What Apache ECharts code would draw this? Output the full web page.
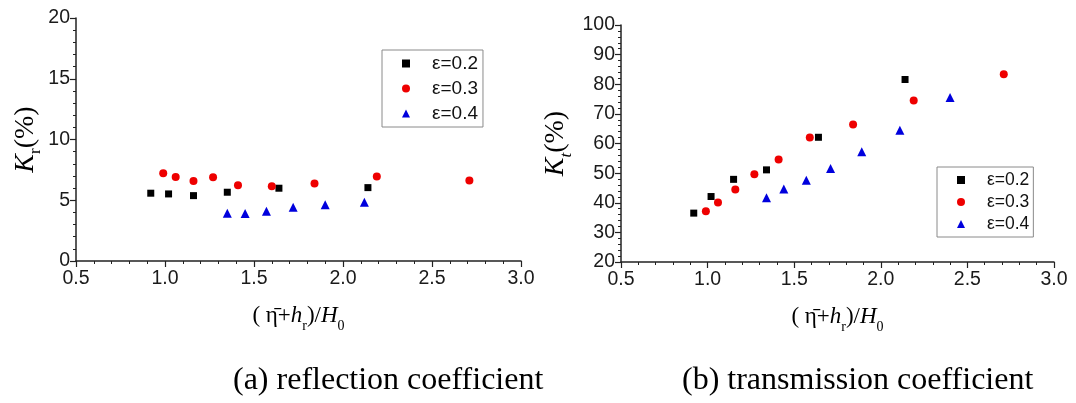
<!DOCTYPE html>
<html>
<head>
<meta charset="utf-8">
<title>Reflection and transmission coefficients</title>
<script src="https://cdn.jsdelivr.net/npm/echarts@6/dist/echarts.min.js"></script>
<style>
  html, body { margin: 0; padding: 0; background: #fff; }
  #chart { width: 1076px; height: 403px; }
</style>
</head>
<body>
<div id="chart"></div>
<script>
// Relative freeboard (η̄ + h_r) / H0 and coefficients in percent
const seriesNames = ['ε=0.2', 'ε=0.3', 'ε=0.4'];

// (a) reflection coefficient Kr
const krX02 = [0.92, 1.02, 1.16, 1.35, 1.64, 2.14];
const krY02 = [5.58, 5.52, 5.38, 5.66, 5.99, 6.04];
const krX03 = [0.99, 1.06, 1.16, 1.27, 1.41, 1.60, 1.84, 2.19, 2.71];
const krY03 = [7.23, 6.92, 6.59, 6.90, 6.24, 6.15, 6.37, 6.95, 6.62];
const krX04 = [1.35, 1.45, 1.57, 1.72, 1.90, 2.12];
const krY04 = [3.93, 3.90, 4.09, 4.42, 4.62, 4.84];

// (b) transmission coefficient Kt
const ktX02 = [0.92, 1.02, 1.15, 1.34, 1.64, 2.14];
const ktY02 = [36.5, 42.1, 47.9, 51.1, 62.1, 81.6];
const ktX03 = [0.99, 1.06, 1.16, 1.27, 1.41, 1.59, 1.84, 2.19, 2.71];
const ktY03 = [37.1, 40.1, 44.5, 49.6, 54.6, 62.0, 66.4, 74.5, 83.4];
const ktX04 = [1.34, 1.44, 1.57, 1.71, 1.89, 2.11, 2.40];
const ktY04 = [41.7, 44.6, 47.6, 51.6, 57.2, 64.5, 75.5];

const captions = ['(a) reflection coefficient', '(b) transmission coefficient'];

const zip = (xs, ys) => xs.map((x, i) => [x, ys[i]]);

const SANS = 'Liberation Sans, Arial, sans-serif';
const SERIF = 'Liberation Serif, Times New Roman, serif';
const AXIS_COLOR = '#222';

const styles = [
  { symbol: 'rect', size: 7, color: '#000000' },
  { symbol: 'circle', size: 8, color: '#ee0000' },
  { symbol: 'triangle', size: 9, color: '#0000dd' }
];

function xAxisFor(gridIndex) {
  return {
    type: 'value', gridIndex, min: 0.5, max: 3.0, interval: 0.5,
    name: '{p|( }{e|η\u0304}{p|+}{i|h}{s|r}{p|)/}{i|H}{s|0}',
    nameLocation: 'middle', nameGap: 38,
    nameTextStyle: {
      rich: {
        p: { fontFamily: SERIF, fontSize: 23, color: '#000', lineHeight: 34, verticalAlign: 'middle' },
        e: { fontFamily: SERIF, fontSize: 23, color: '#000', lineHeight: 34, verticalAlign: 'middle' },
        i: { fontFamily: SERIF, fontSize: 23, fontStyle: 'italic', color: '#000', lineHeight: 34, verticalAlign: 'middle' },
        s: { fontFamily: SERIF, fontSize: 14, color: '#000', lineHeight: 34, verticalAlign: 'bottom' }
      }
    },
    axisLine: { show: true, onZero: false, lineStyle: { color: AXIS_COLOR, width: 1.5 } },
    axisTick: { show: true, length: 6, lineStyle: { color: AXIS_COLOR, width: 1.2 } },
    minorTick: { show: true, splitNumber: 5, length: 3, lineStyle: { color: AXIS_COLOR, width: 1 } },
    splitLine: { show: false },
    axisLabel: { fontFamily: SANS, fontSize: 19.5, color: '#1a1a1a', margin: 8,
      formatter: v => v.toFixed(1) }
  };
}

function yAxisFor(gridIndex, min, max, interval, minorSplit, sub, subItalic, gap) {
  return {
    type: 'value', gridIndex, min, max, interval,
    name: '{k|K}{s|' + sub + '}{p|(%)}',
    nameLocation: 'middle', nameRotate: 90, nameGap: gap,
    nameTextStyle: {
      rich: {
        k: { fontFamily: SERIF, fontSize: 28, fontStyle: 'italic', color: '#000', lineHeight: 38, verticalAlign: 'middle' },
        s: { fontFamily: SERIF, fontSize: 17, fontStyle: subItalic ? 'italic' : 'normal', color: '#000', lineHeight: 38, verticalAlign: 'bottom' },
        p: { fontFamily: SERIF, fontSize: 28, color: '#000', lineHeight: 38, verticalAlign: 'middle' }
      }
    },
    axisLine: { show: true, onZero: false, lineStyle: { color: AXIS_COLOR, width: 1.5 } },
    axisTick: { show: true, length: 6, lineStyle: { color: AXIS_COLOR, width: 1.2 } },
    minorTick: { show: true, splitNumber: minorSplit, length: 3, lineStyle: { color: AXIS_COLOR, width: 1 } },
    splitLine: { show: false },
    axisLabel: { fontFamily: SANS, fontSize: 19.5, color: '#1a1a1a', margin: 6 }
  };
}

function scatter(name, idx, xs, ys, axisIndex) {
  const s = styles[idx];
  return {
    type: 'scatter', name,
    xAxisIndex: axisIndex, yAxisIndex: axisIndex,
    symbol: s.symbol, symbolSize: s.size,
    itemStyle: { color: s.color, opacity: 1 },
    emphasis: { disabled: true },
    data: zip(xs, ys)
  };
}

function legendFor(left, top, fontSize, gap, padTop, padRight) {
  return {
    orient: 'vertical', left, top,
    data: seriesNames.map((n, i) => ({ name: n, icon: styles[i].symbol })),
    itemWidth: 8, itemHeight: 8, itemGap: gap,
    padding: [padTop, padRight, padTop, 20],
    borderColor: '#8a8a8a', borderWidth: 1, borderRadius: 0,
    backgroundColor: '#fff',
    selectedMode: false,
    textStyle: { fontFamily: SANS, fontSize, color: '#111', padding: [0, 0, 0, 17] }
  };
}

const chart = echarts.init(document.getElementById('chart'), null, { renderer: 'canvas' });

const captionStyle = { fontFamily: SERIF, fontSize: 32, fontWeight: 'normal', color: '#000' };

chart.setOption({
  backgroundColor: '#fff',
  animation: false,
  title: [
    { text: captions[0], left: 233, top: 365, padding: 0, textStyle: captionStyle },
    { text: captions[1], left: 682, top: 365, padding: 0, textStyle: captionStyle }
  ],
  grid: [
    { left: 76, right: 555, top: 18, bottom: 142 },
    { left: 621, right: 22, top: 25, bottom: 141 }
  ],
  xAxis: [xAxisFor(0), xAxisFor(1)],
  yAxis: [
    yAxisFor(0, 0, 20, 5, 5, 'r', false, 31),
    yAxisFor(1, 20, 100, 10, 5, 't', true, 46)
  ],
  legend: [
    legendFor(382, 50, 19, 6, 4, 5),
    legendFor(937, 167, 17.5, 4, 4, 4)
  ],
  series: [
    scatter(seriesNames[0], 0, krX02, krY02, 0),
    scatter(seriesNames[1], 1, krX03, krY03, 0),
    scatter(seriesNames[2], 2, krX04, krY04, 0),
    scatter(seriesNames[0], 0, ktX02, ktY02, 1),
    scatter(seriesNames[1], 1, ktX03, ktY03, 1),
    scatter(seriesNames[2], 2, ktX04, ktY04, 1)
  ]
});
</script>
</body>
</html>
